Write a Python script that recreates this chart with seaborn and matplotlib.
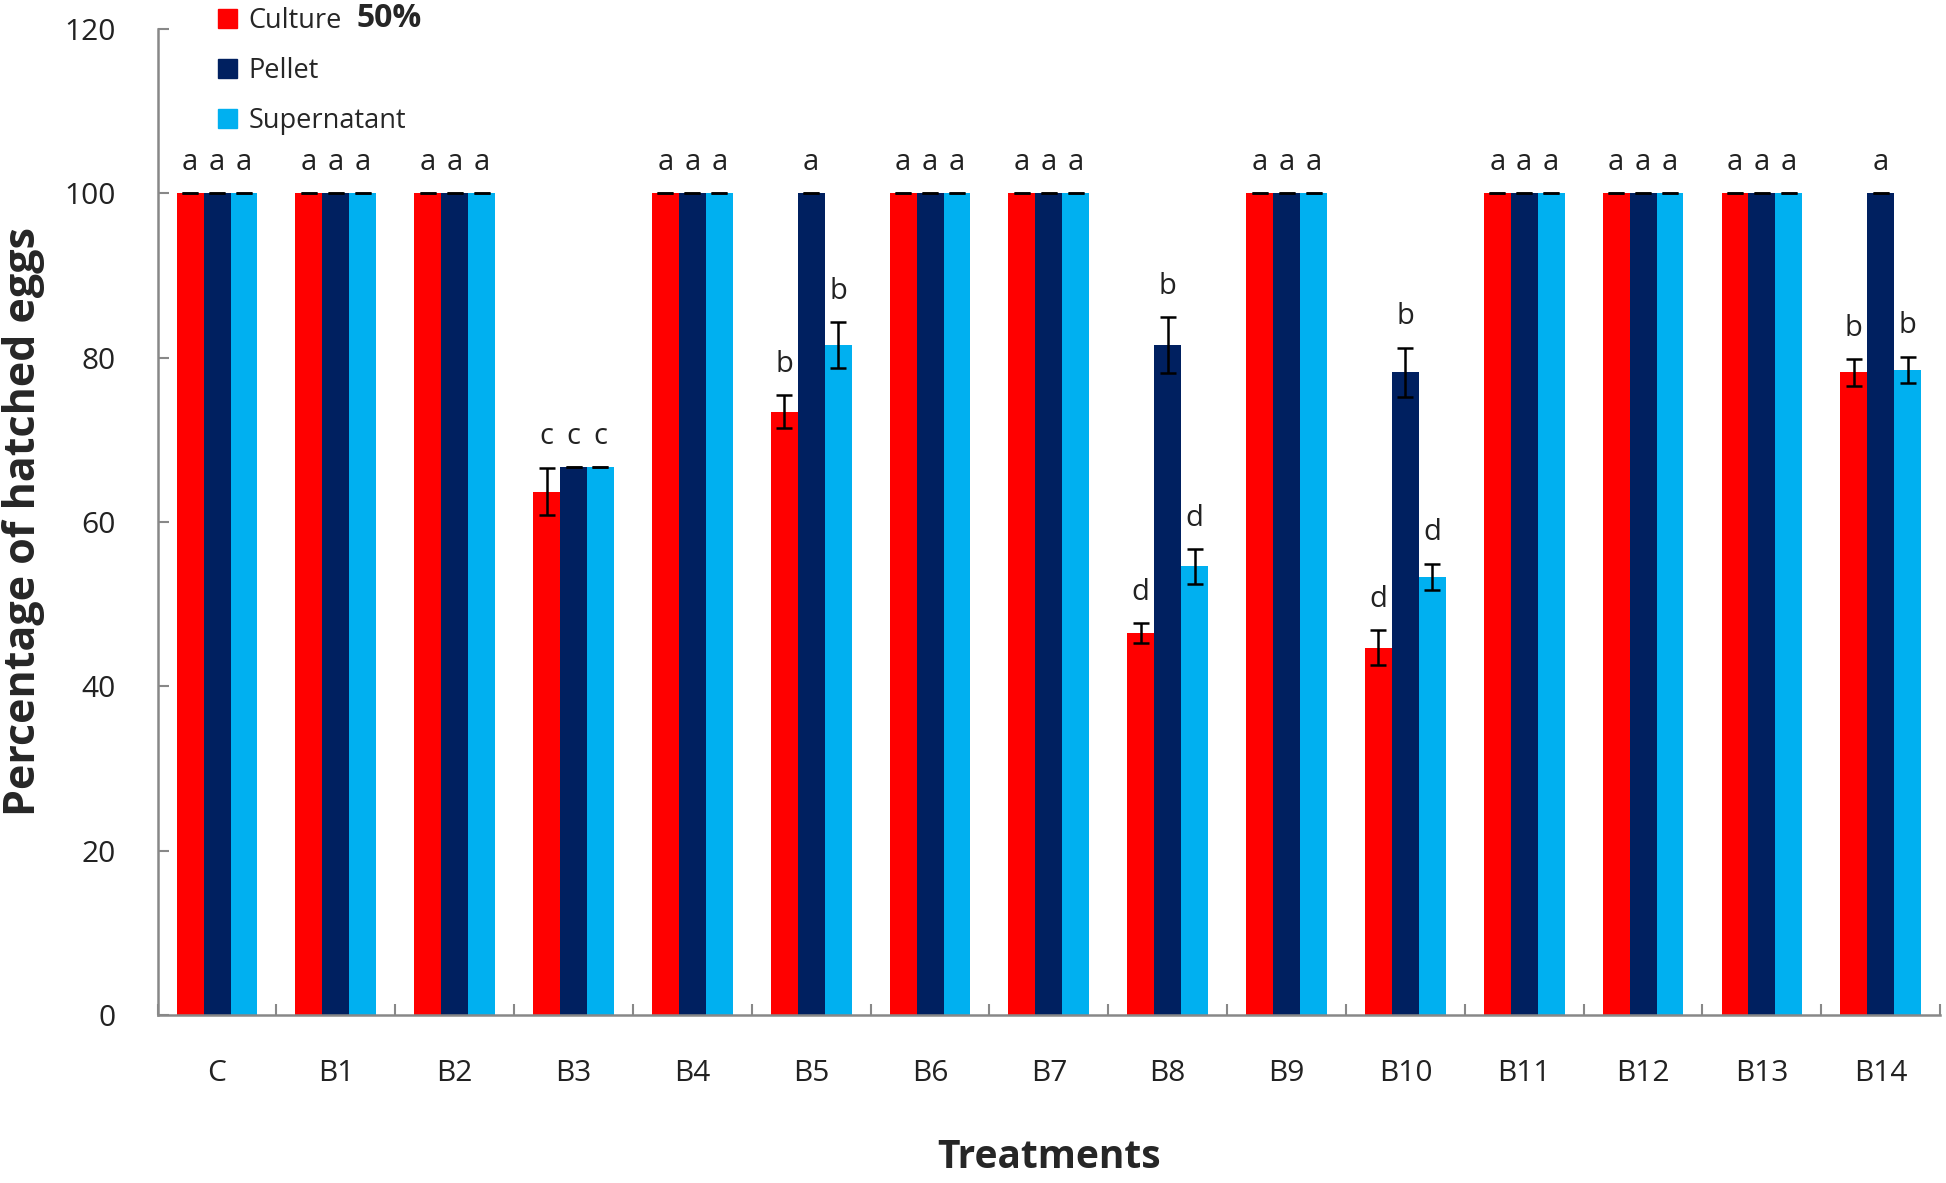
import matplotlib
matplotlib.use("Agg")
import matplotlib.pyplot as plt
import numpy as np
import pandas as pd
import seaborn as sns

# values
categories = ["C", "B1", "B2", "B3", "B4", "B5", "B6", "B7",
              "B8", "B9", "B10", "B11", "B12", "B13", "B14"]
series_names = ["Culture", "Pellet", "Supernatant"]

culture = [100, 100, 100, 63.7, 100, 73.4, 100, 100, 46.5, 100, 44.7, 100, 100, 100, 78.2]
pellet = [100, 100, 100, 66.7, 100, 100, 100, 100, 81.5, 100, 78.2, 100, 100, 100, 100]
supernatant = [100, 100, 100, 66.7, 100, 81.5, 100, 100, 54.6, 100, 53.3, 100, 100, 100, 78.5]

culture_err = [0, 0, 0, 2.9, 0, 2.0, 0, 0, 1.2, 0, 2.1, 0, 0, 0, 1.6]
pellet_err = [0, 0, 0, 0, 0, 0, 0, 0, 3.4, 0, 3.0, 0, 0, 0, 0]
supernatant_err = [0, 0, 0, 0, 0, 2.8, 0, 0, 2.1, 0, 1.6, 0, 0, 0, 1.6]

culture_letters = ["a", "a", "a", "c", "a", "b", "a", "a", "d", "a", "d", "a", "a", "a", "b"]
pellet_letters = ["a", "a", "a", "c", "a", "a", "a", "a", "b", "a", "b", "a", "a", "a", "a"]
supernatant_letters = ["a", "a", "a", "c", "a", "b", "a", "a", "d", "a", "d", "a", "a", "a", "b"]

colours = ["#FF0000", "#002060", "#00B0F0"]

sns.set_style("white")
plt.rcParams["font.family"] = ["Open Sans", "DejaVu Sans"]

df = pd.DataFrame({
    "Treatment": categories * 3,
    "Series": np.repeat(series_names, len(categories)),
    "Value": culture + pellet + supernatant,
})

fig = plt.figure(figsize=(19.46, 11.83), dpi=100)
ax = fig.add_axes([0.081, 0.142, 0.916, 0.8335])

sns.barplot(data=df, x="Treatment", y="Value", hue="Series",
            palette=colours, width=0.68, errorbar=None, ax=ax,
            saturation=1, legend=False, linewidth=0)

errs = [culture_err, pellet_err, supernatant_err]
vals = [culture, pellet, supernatant]
letters = [culture_letters, pellet_letters, supernatant_letters]
for cont, v, e, lab in zip(ax.containers, vals, errs, letters):
    xs = [b.get_x() + b.get_width() / 2 for b in cont]
    ax.errorbar(xs, v, yerr=e, fmt="none", ecolor="black",
                elinewidth=1.8, capsize=6, capthick=1.8, zorder=3)
    for x, y, err, t in zip(xs, v, e, lab):
        ax.text(x, y + err + 2.0, t, ha="center", va="bottom",
                fontsize=21, color="#222222")

ax.set_ylim(0, 120)
ax.set_xlim(-0.5, len(categories) - 0.5)
ax.set_yticks(range(0, 121, 20))
ax.set_xticks(np.arange(-0.5, len(categories), 1.0), minor=True)
ax.tick_params(axis="y", direction="in", length=8, width=1.5,
               color="#888888", labelsize=21.5, labelcolor="#222222",
               pad=30, left=True)
ax.tick_params(axis="x", which="major", length=0, labelsize=21.5,
               labelcolor="#222222", pad=32)
ax.tick_params(axis="x", which="minor", direction="in", length=8,
               width=1.5, color="#888888", bottom=True)
for s in ["top", "right"]:
    ax.spines[s].set_visible(False)
for s in ["left", "bottom"]:
    ax.spines[s].set_color("#888888")
    ax.spines[s].set_linewidth(1.8)

ax.set_xlabel("Treatments", fontsize=28, fontweight="bold", labelpad=36)
ax.set_ylabel("Percentage of hatched eggs", fontsize=31,
              fontweight="bold", labelpad=14)

handles = [plt.Rectangle((0, 0), 1, 1, color=c) for c in colours]
ax.legend(handles, series_names, loc="upper left",
          bbox_to_anchor=(0.028, 1.033), frameon=False, fontsize=19.5,
          handlelength=0.7, handleheight=0.7, handletextpad=0.4,
          labelspacing=0.8, borderaxespad=0)
fig.text(0.183, 0.984, "50%", fontsize=23, fontweight="bold", va="center")

fig.savefig("out.png", dpi=100)
